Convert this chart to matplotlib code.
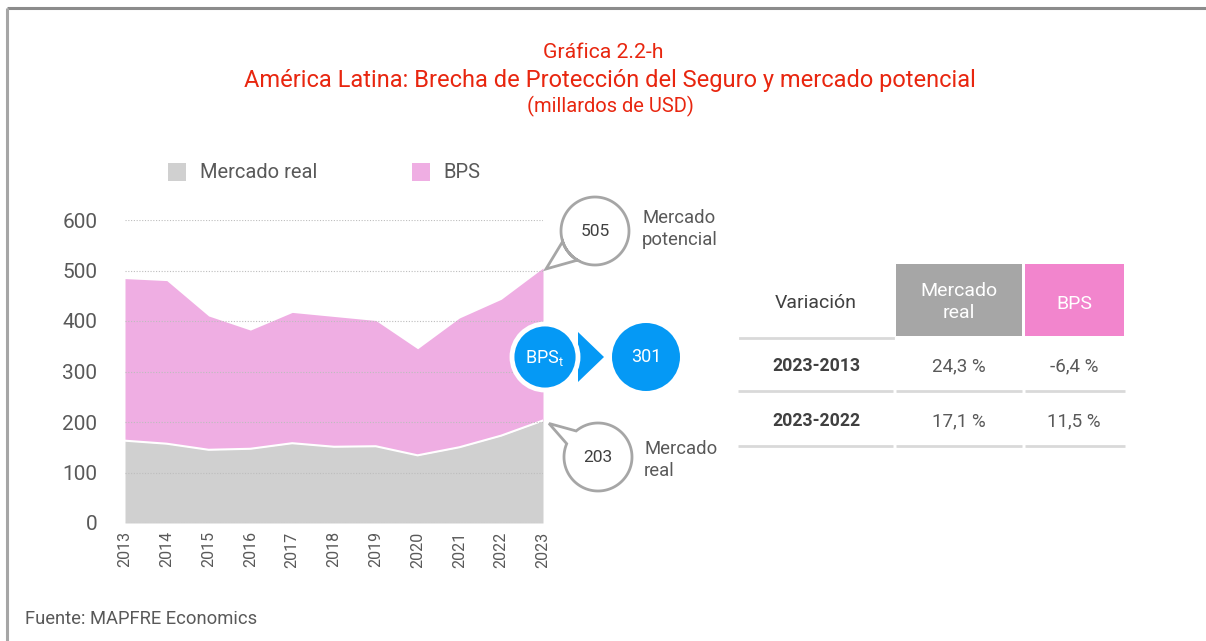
import numpy as np
import matplotlib.pyplot as plt
from matplotlib.patches import Circle, Rectangle, Polygon

plt.rcParams['font.family'] = ['Roboto', 'DejaVu Sans']
plt.rcParams['mathtext.default'] = 'regular'

# data (millardos de USD)
years = [2013, 2014, 2015, 2016, 2017, 2018, 2019, 2020, 2021, 2022, 2023]
mercado_real = [163, 157, 145, 147, 158, 151, 152, 134, 150, 173, 203]
mercado_potencial = [484, 480, 410, 382, 417, 409, 401, 345, 406, 443, 505]
bps = [p - r for p, r in zip(mercado_potencial, mercado_real)]
bps_ultimo = 301

tabla_filas = ['2023-2013', '2023-2022']
tabla_real = ['24,3 %', '17,1 %']
tabla_bps = ['-6,4 %', '11,5 %']

W, H = 1206, 641
GREY_FILL = '#d0d0d0'
PINK_FILL = '#efaee3'
BLUE = '#0599f5'
TXT = '#595959'
RED = '#e8260f'

fig = plt.figure(figsize=(W / 100, H / 100), dpi=100)

# main area chart, positioned in pixels
x0, x1, ytop, ybot = 125, 543, 220, 523
ax = fig.add_axes([x0 / W, (H - ybot) / H, (x1 - x0) / W, (ybot - ytop) / H])
ax.fill_between(years, 0, mercado_real, color=GREY_FILL, lw=0)
ax.fill_between(years, mercado_real, mercado_potencial, color=PINK_FILL, lw=0)
ax.plot(years, mercado_real, color='white', lw=1.5)
ax.set_xlim(2013, 2023)
ax.set_ylim(0, 600)
ax.set_yticks(range(0, 601, 100))
ax.set_xticks(years)
ax.set_xticklabels([str(y) for y in years], rotation=90)
ax.tick_params(axis='y', length=0, pad=20, labelsize=15, labelcolor=TXT)
ax.tick_params(axis='x', length=0, pad=6, labelsize=11.5, labelcolor=TXT)
ax.grid(axis='y', color='#bdbdbd', linestyle=(0, (1, 1.5)), lw=0.8)
ax.set_axisbelow(False)
for s in ax.spines.values():
    s.set_visible(False)
ax.patch.set_alpha(0)

# overlay in pixel coordinates (y measured from the top)
ov = fig.add_axes([0, 0, 1, 1])
ov.set_xlim(0, W)
ov.set_ylim(H, 0)
ov.axis('off')
ov.patch.set_alpha(0)


def to_px(x, y):
    disp = ax.transData.transform((x, y))
    return ov.transData.inverted().transform(disp)


# frame
ov.plot([7, W], [8, 8], color='#8c8c8c', lw=2.2, solid_capstyle='butt')
ov.plot([7, 7], [8, H], color='#a6a6a6', lw=2.2, solid_capstyle='butt')

# titles
ov.text(603, 53, 'Gráfica 2.2-h', color=RED, fontsize=15.3, ha='center', va='center')
ov.text(610, 81, 'América Latina: Brecha de Protección del Seguro y mercado potencial',
        color=RED, fontsize=17, ha='center', va='center')
ov.text(610, 106, '(millardos de USD)', color=RED, fontsize=14.5, ha='center', va='center')

# legend
ov.add_patch(Rectangle((168, 163), 18, 18, color=GREY_FILL, lw=0))
ov.text(200, 172, 'Mercado real', fontsize=14.5, color=TXT, va='center')
ov.add_patch(Rectangle((412, 163), 18, 18, color=PINK_FILL, lw=0))
ov.text(443, 172, 'BPS', fontsize=14.5, color=TXT, va='center')


def bubble(cx, cy, r, a1, a2, tip, label):
    # circle with a tail; angles in degrees, y axis pointing down
    th = np.radians(np.linspace(a2, a1 + 360, 120))
    pts = [(cx + r * np.cos(t), cy + r * np.sin(t)) for t in th]
    pts.append(tuple(tip))
    ov.add_patch(Polygon(pts, closed=True, facecolor='white', edgecolor='#a6a6a6', lw=2))
    ov.text(cx, cy + 1, label, fontsize=12.5, color='#404040', ha='center', va='center')


tip_top = to_px(years[-1], mercado_potencial[-1])
tip_bot = to_px(years[-1], mercado_real[-1])
bubble(595, 231, 34, 162, 121, (tip_top[0] + 3, tip_top[1] + 1), str(mercado_potencial[-1]))
bubble(598, 457, 34, 203, 230, (tip_bot[0] + 6, tip_bot[1] + 3), str(mercado_real[-1]))
ov.text(642, 229, 'Mercado\npotencial', fontsize=13.3, color=TXT, va='center', linespacing=1.35)
ov.text(644, 460, 'Mercado\nreal', fontsize=13.3, color=TXT, va='center', linespacing=1.35)

# BPS circles
ov.add_patch(Polygon([(578, 332), (578, 382), (604, 357)], closed=True, color=BLUE, lw=0))
ov.add_patch(Circle((545, 357), 33, facecolor=BLUE, edgecolor='white', lw=3.5))
ov.text(545, 358, r'BPS$_t$', fontsize=13, color='white', ha='center', va='center')
ov.add_patch(Circle((646, 357), 34, facecolor=BLUE, lw=0))
ov.text(646, 357, str(bps_ultimo), fontsize=13, color='white', ha='center', va='center')

# table
ov.add_patch(Rectangle((896, 264), 126, 72, color='#a6a6a6', lw=0))
ov.add_patch(Rectangle((1025, 264), 99, 72, color='#f285cd', lw=0))
ov.text(816, 303, 'Variación', fontsize=14, color='#404040', ha='center', va='center')
ov.text(959, 302, 'Mercado\nreal', fontsize=14, color='white', ha='center', va='center',
        linespacing=1.25)
ov.text(1074, 304, 'BPS', fontsize=14, color='white', ha='center', va='center')
ov.plot([740, 893], [338, 338], color='#d9d9d9', lw=2)
row_y = [366, 421]
for i, lab in enumerate(tabla_filas):
    y = row_y[i]
    ov.text(816, y, lab, fontsize=12.7, color='#404040', ha='center', va='center',
            fontweight='bold')
    ov.text(959, y, tabla_real[i], fontsize=13.5, color=TXT, ha='center', va='center')
    ov.text(1074, y, tabla_bps[i], fontsize=13.5, color=TXT, ha='center', va='center')
    ly = y + 25
    for xa, xb in [(738, 893), (896, 1022), (1025, 1125)]:
        ov.plot([xa, xb], [ly, ly], color='#d9d9d9', lw=2, solid_capstyle='butt')

# source
ov.text(25, 619, 'Fuente: MAPFRE Economics', fontsize=13.2, color=TXT, va='center')

fig.savefig('out.png', dpi=100)
